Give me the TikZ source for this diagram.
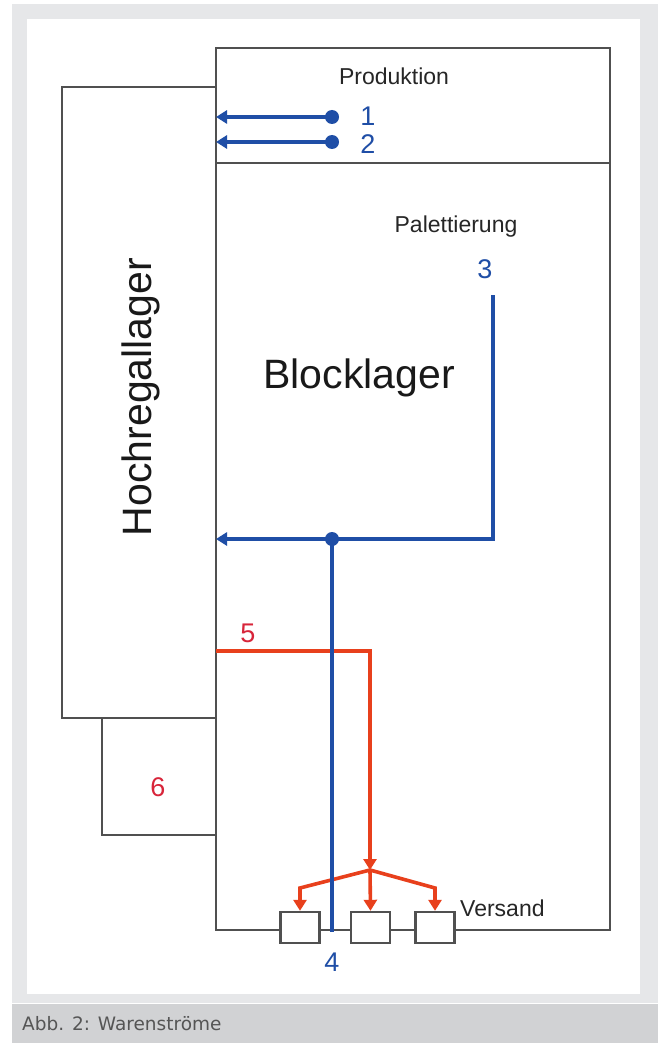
\documentclass[tikz,border=0pt]{standalone}
\usepackage{fontspec}
\setmainfont{Liberation Sans}
\newfontfamily\capfont{DejaVu Sans}
\usetikzlibrary{arrows.meta}
\definecolor{flowblue}{HTML}{1F4EA6}
\definecolor{flowred}{HTML}{E8401C}
\definecolor{labred}{HTML}{D8253A}
\definecolor{wall}{HTML}{505050}
\definecolor{framegray}{HTML}{E6E7E9}
\definecolor{capgray}{HTML}{D1D2D4}
\definecolor{captext}{HTML}{555555}
\begin{document}
\begin{tikzpicture}[x=1pt,y=-1pt,
  wallline/.style={draw=wall,line width=2.4pt},
  blueflow/.style={draw=flowblue,line width=4pt},
  redflow/.style={draw=flowred,line width=3.6pt},
  tipped/.style={-{Triangle[length=11pt,width=13pt]}},
  roomtext/.style={inner sep=0pt,font=\fontsize{23}{27}\selectfont,text=black!85},
  bigtext/.style={inner sep=0pt,font=\fontsize{41}{47}\selectfont,text=black!90},
  bluenum/.style={inner sep=0pt,font=\fontsize{27}{31}\selectfont,text=flowblue},
  rednum/.style={inner sep=0pt,font=\fontsize{27}{31}\selectfont,text=labred},
  vbox/.style={draw=wall,line width=2.4pt,fill=white,minimum width=39pt,minimum height=31pt,inner sep=0pt},
  bluedot/.style={circle,fill=flowblue,minimum size=14pt,inner sep=0pt}
]
\useasboundingbox (0,0) rectangle (658,1043);
\fill[white] (0,0) rectangle (658,1043);
\fill[framegray] (12,4) rectangle (658,1003);
\fill[white] (27,19) rectangle (640,994);
\fill[capgray] (12,1004) rectangle (658,1043);
\node[anchor=base west,inner sep=0pt,font=\capfont\fontsize{18.5}{22}\selectfont,text=captext] (caption) at (22,1030) {Abb. 2: Warenströme};

% buildings
\draw[wallline] (62,718) rectangle (216,87);
\draw[wallline] (102,718) rectangle (216,835);
\draw[wallline] (216,48) rectangle (610,930);
\draw[wallline] (216,163) -- (610,163);

% texts
\node[roomtext,anchor=base] (prod) at (394,85) {Produktion};
\node[roomtext,anchor=base] (palet) at (456,232) {Palettierung};
\node[bigtext,anchor=base] (block) at (359,388) {Blocklager};
\node[bigtext,anchor=base,rotate=90] (hrl) at (151,397) {Hochregallager};
\node[roomtext,anchor=base west] (versand) at (460,916) {Versand};
\node[bluenum] (n1) at (368,116) {1};
\node[bluenum] (n2) at (368,144) {2};
\node[bluenum] (n3) at (485,269) {3};
\node[bluenum] (n4) at (332,962) {4};
\node[rednum] (n5) at (248,633) {5};
\node[rednum] (n6) at (158,787) {6};

% coordinates
\coordinate (e1) at (216,117);
\coordinate (e2) at (216,142);
\coordinate (top3) at (493,295);
\coordinate (corner3) at (493,539);
\coordinate (e3) at (216,539);
\coordinate (bottom4) at (332,932);
\coordinate (start5) at (216,651);
\coordinate (corner5) at (370,651);
\coordinate (split) at (370,870);
\coordinate (lbend) at (300,888);
\coordinate (rbend) at (435,888);

% red flows
\draw[redflow,tipped] (start5) -- (corner5) -- (split);
\node[vbox] (b1) at (300,927.5) {};
\node[vbox] (b2) at (370.5,927.5) {};
\node[vbox] (b3) at (435,927.5) {};
\draw[redflow,tipped] (split) -- (lbend) -- (b1.north);
\draw[redflow,tipped] (split) -- (b2.north);
\draw[redflow,tipped] (split) -- (rbend) -- (b3.north);

% blue flows
\node[bluedot] (d1) at (332,117) {};
\node[bluedot] (d2) at (332,142) {};
\node[bluedot] (d3) at (332,539) {};
\draw[blueflow,tipped] (d1.center) -- (e1);
\draw[blueflow,tipped] (d2.center) -- (e2);
\draw[blueflow,tipped] (top3) -- (corner3) -- (e3);
\draw[blueflow] (d3.center) -- (bottom4);
\end{tikzpicture}
\end{document}
